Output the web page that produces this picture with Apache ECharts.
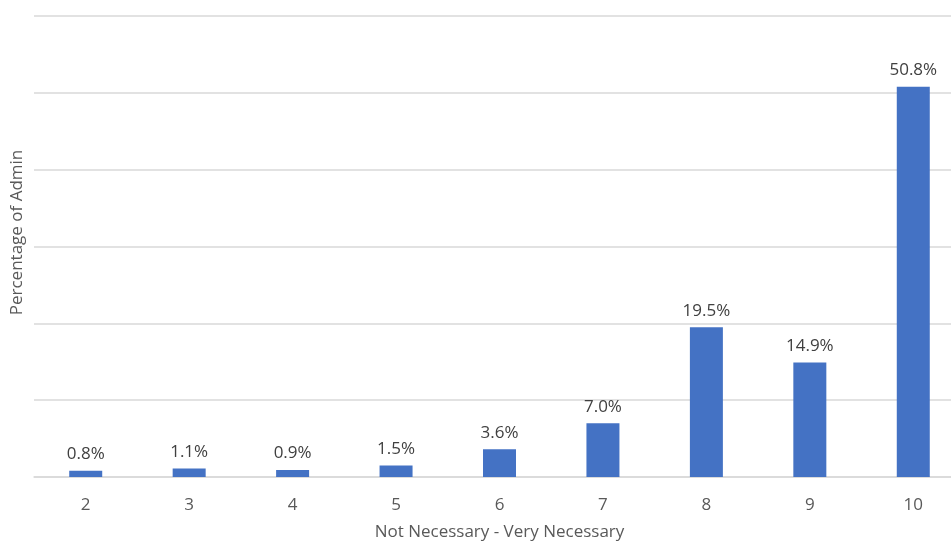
<!DOCTYPE html>
<html>
<head>
<meta charset="utf-8">
<script src="https://cdn.jsdelivr.net/npm/echarts@6/dist/echarts.min.js"></script>
<style>
  html, body { margin: 0; padding: 0; background: #fff; overflow: hidden; }
  #main { width: 951px; height: 544px; }
</style>
</head>
<body>
<div id="main"></div>
<script>
const categories = ['2', '3', '4', '5', '6', '7', '8', '9', '10'];
const percentages = [0.8, 1.1, 0.9, 1.5, 3.6, 7.0, 19.5, 14.9, 50.8];

const chart = echarts.init(document.getElementById('main'));
chart.setOption({
  animation: false,
  textStyle: { fontFamily: 'Open Sans' },
  // plot runs past the right edge, like the cropped original
  grid: { left: 34, right: -14, top: 16, bottom: 67, outerBoundsMode: 'none', containLabel: false },
  xAxis: {
    type: 'category',
    data: categories,
    name: 'Not Necessary - Very Necessary',
    nameLocation: 'middle',
    nameGap: 47,
    nameTextStyle: { fontSize: 17, color: '#595959' },
    axisLine: { lineStyle: { color: '#d9d9d9', width: 1.5 } },
    axisTick: { show: false },
    axisLabel: { fontSize: 17, color: '#595959', margin: 20 }
  },
  yAxis: {
    type: 'value',
    min: 0,
    max: 60,
    interval: 10,
    name: 'Percentage of Admin',
    nameLocation: 'middle',
    nameGap: 8,
    nameTextStyle: { fontSize: 17, color: '#595959', padding: [0, 0, 0, 28] },
    axisLabel: { show: false },
    axisLine: { show: false },
    axisTick: { show: false },
    splitLine: { lineStyle: { color: '#d9d9d9', width: 1.5 } }
  },
  series: [{
    type: 'bar',
    data: percentages,
    barWidth: 33,
    itemStyle: { color: '#4472C4' },
    label: {
      show: true,
      position: 'top',
      distance: 8,
      fontSize: 17,
      color: '#404040',
      formatter: p => p.value.toFixed(1) + '%'
    }
  }]
});
</script>
</body>
</html>
